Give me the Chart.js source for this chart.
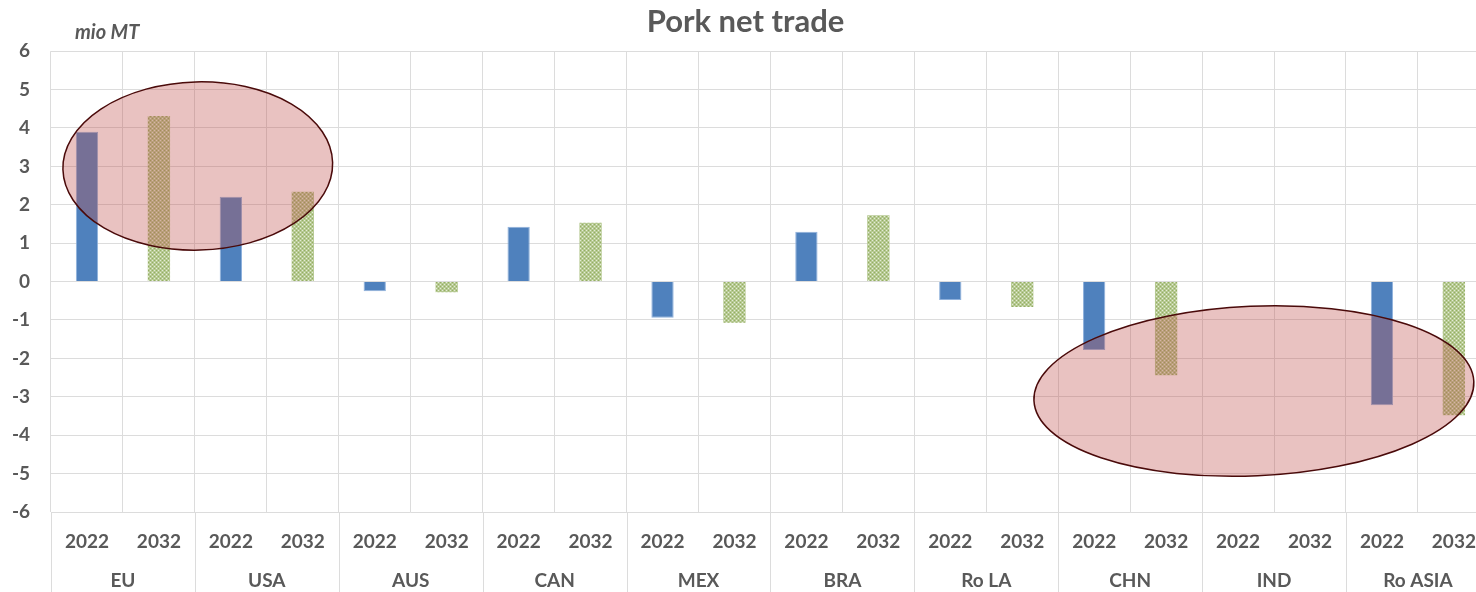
<!DOCTYPE html>
<html>
<head>
<meta charset="utf-8">
<script src="https://cdn.jsdelivr.net/npm/chart.js@4/dist/chart.umd.min.js"></script>
<style>
  html, body { margin: 0; padding: 0; background: #ffffff; overflow: hidden; }
  #wrap { width: 1494px; height: 592px; }
</style>
</head>
<body>
<div id="wrap"><canvas id="c" width="1494" height="592"></canvas></div>
<script>
// ---- data ----
const regions = ['EU', 'USA', 'AUS', 'CAN', 'MEX', 'BRA', 'Ro LA', 'CHN', 'IND', 'Ro ASIA'];
const years = ['2022', '2032'];
const net2022 = [3.9, 2.21, -0.25, 1.43, -0.94, 1.30, -0.48, -1.78, null, -3.22];
const net2032 = [4.31, 2.34, -0.28, 1.53, -1.07, 1.73, -0.66, -2.44, null, -3.48];
const yMin = -6, yMax = 6, yStep = 1;
const chartTitle = 'Pork net trade';
const unitLabel = 'mio MT';
// highlight ellipses, in data units (category index, value)
const highlightEllipses = [
  { cx: 1.54, cy: 3.01, rx: 1.875, ry: 2.19, rotDeg: -1.5 },
  { cx: 16.22, cy: -2.85, rx: 3.06, ry: 2.21, rotDeg: -2.5 }
];

// ---- derived ----
const labels = regions.flatMap(() => years);
const series2022 = regions.flatMap((r, i) => [net2022[i], null]);
const series2032 = regions.flatMap((r, i) => [null, net2032[i]]);

const TEXT = '#595959';
const GRID = '#dcdcdc';
const FONT = 'Lato, "Open Sans", sans-serif';

function makePattern() {
  const t = document.createElement('canvas');
  t.width = 4; t.height = 4;
  const g = t.getContext('2d');
  g.fillStyle = '#b6c992'; g.fillRect(0, 0, 4, 4);
  g.fillStyle = '#e4ecd6'; g.fillRect(0, 0, 1, 1); g.fillRect(2, 2, 1, 1);
  g.fillStyle = '#94ae62'; g.fillRect(2, 0, 1, 1); g.fillRect(0, 2, 1, 1);
  return document.getElementById('c').getContext('2d').createPattern(t, 'repeat');
}
const greenPattern = makePattern();

const extras = {
  id: 'extras',
  afterDatasetsDraw(chart) {
    const { ctx } = chart;
    const x = chart.scales.x, y = chart.scales.y;
    const slot = x.getPixelForValue(1) - x.getPixelForValue(0);
    const unitY = Math.abs(y.getPixelForValue(1) - y.getPixelForValue(0));
    highlightEllipses.forEach(e => {
      ctx.save();
      ctx.beginPath();
      ctx.ellipse(x.getPixelForValue(e.cx), y.getPixelForValue(e.cy),
        e.rx * slot, e.ry * unitY, e.rotDeg * Math.PI / 180, 0, Math.PI * 2);
      ctx.fillStyle = 'rgba(192, 80, 77, 0.35)';
      ctx.fill();
      ctx.lineWidth = 1.5;
      ctx.strokeStyle = '#4a0a0a';
      ctx.stroke();
      ctx.restore();
    });
  },
  afterDraw(chart) {
    const { ctx, chartArea } = chart;
    const x = chart.scales.x;
    const slot = x.getPixelForValue(1) - x.getPixelForValue(0);
    ctx.save();
    // group separators
    ctx.strokeStyle = GRID;
    ctx.lineWidth = 1;
    for (let g = 0; g <= regions.length; g++) {
      const px = Math.round(x.getPixelForValue(2 * g) - slot / 2) + 0.5;
      ctx.beginPath();
      ctx.moveTo(px, chartArea.bottom);
      ctx.lineTo(px, chart.height);
      ctx.stroke();
    }
    // group labels
    ctx.fillStyle = TEXT;
    ctx.font = 'bold 19px ' + FONT;
    ctx.textAlign = 'center';
    ctx.textBaseline = 'middle';
    regions.forEach((r, g) => {
      const cx = (x.getPixelForValue(2 * g) + x.getPixelForValue(2 * g + 1)) / 2;
      ctx.fillText(r, cx, chartArea.bottom + 69);
    });
    // unit label
    ctx.font = 'italic bold 20px ' + FONT;
    ctx.textAlign = 'left';
    ctx.textBaseline = 'alphabetic';
    ctx.fillText(unitLabel, chartArea.left + 24, chartArea.top - 12);
    ctx.restore();
  }
};

new Chart(document.getElementById('c'), {
  type: 'bar',
  data: {
    labels: labels,
    datasets: [
      {
        label: years[0],
        data: series2022,
        backgroundColor: '#4f81bd',
        borderColor: '#8fb1dc',
        borderWidth: 1,
        grouped: false,
        categoryPercentage: 1,
        barPercentage: 0.31
      },
      {
        label: years[1],
        data: series2032,
        backgroundColor: greenPattern,
        borderColor: 'rgba(0,0,0,0)',
        borderWidth: 0,
        grouped: false,
        categoryPercentage: 1,
        barPercentage: 0.31
      }
    ]
  },
  options: {
    responsive: false,
    animation: false,
    devicePixelRatio: 1,
    layout: { padding: { left: 0, right: 3, top: 0, bottom: 0 } },
    plugins: {
      legend: { display: false },
      tooltip: { enabled: false },
      title: {
        display: true,
        text: chartTitle,
        color: TEXT,
        font: { family: FONT, size: 31, weight: 'bold' },
        padding: { top: 3, bottom: 11 }
      }
    },
    scales: {
      x: {
        offset: true,
        grid: { offset: true, color: GRID, drawTicks: false },
        border: { display: false },
        ticks: {
          color: TEXT,
          font: { family: FONT, size: 19, weight: 'bold' },
          padding: 18,
          maxRotation: 0,
          autoSkip: false
        },
        afterFit(scale) { scale.height = 80; }
      },
      y: {
        min: yMin,
        max: yMax,
        grid: { color: GRID, drawTicks: false },
        border: { display: false },
        ticks: {
          stepSize: yStep,
          color: TEXT,
          font: { family: FONT, size: 19, weight: 'bold' },
          padding: 21
        },
        afterFit(scale) { scale.width = 51; }
      }
    }
  },
  plugins: [extras]
});
</script>
</body>
</html>
